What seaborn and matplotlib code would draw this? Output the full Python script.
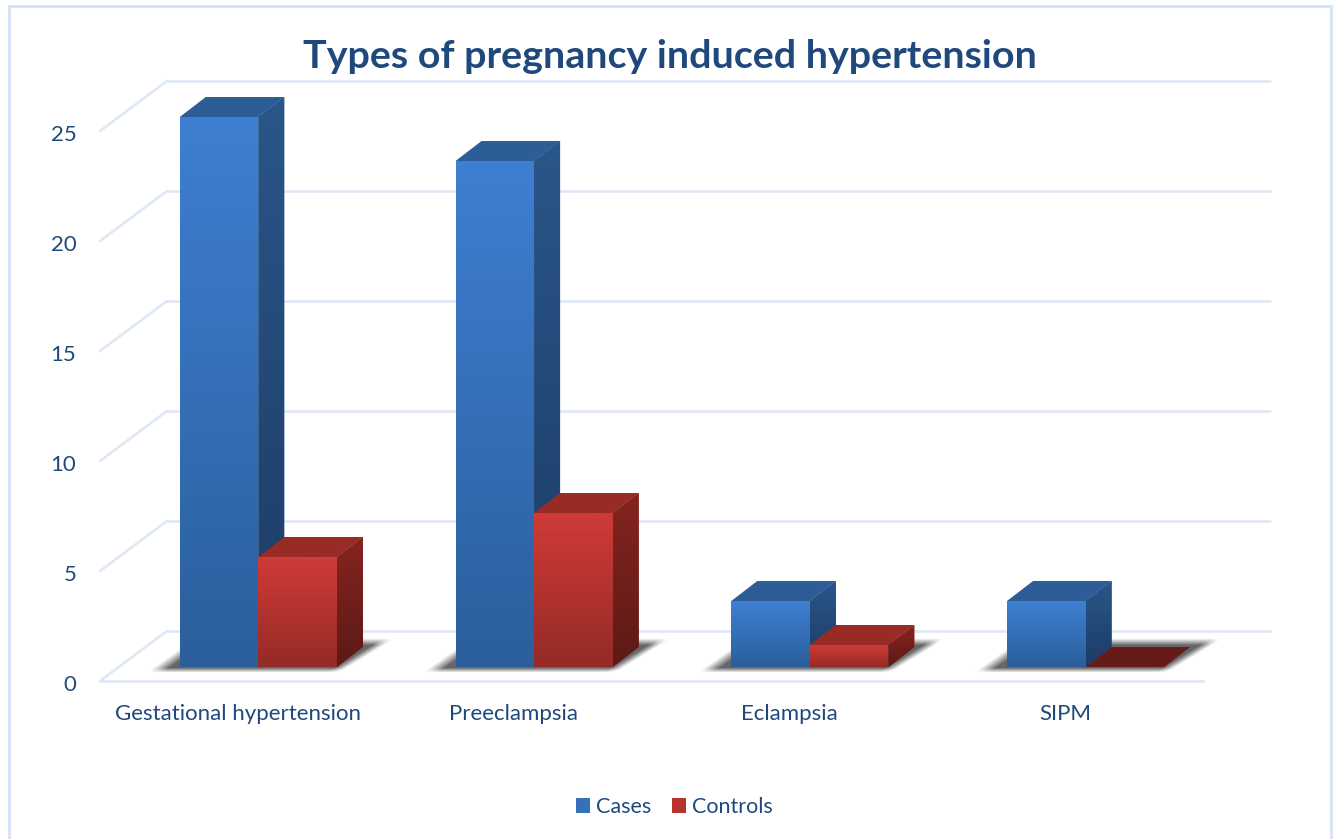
"""Types of pregnancy induced hypertension, drawn as a 3D look bar chart."""

import matplotlib
matplotlib.use('Agg')
import matplotlib.pyplot as plt
import seaborn as sns
import numpy as np
import pandas as pd
from matplotlib.colors import to_rgb
from matplotlib.patches import Polygon, Rectangle
from matplotlib.transforms import Affine2D, IdentityTransform

categories = ['Gestational hypertension', 'Preeclampsia', 'Eclampsia', 'SIPM']
cases = [25, 23, 3, 3]
controls = [5, 7, 1, 0]
y_ticks = [0, 5, 10, 15, 20, 25]

TEXT = '#1f497d'
WALL = '#dde7f5'
W, H = 1335, 839
BAR_SHIFT = (20.5, 14)     # front of the bars sits a bit into the floor
BAR_DEPTH = (26, 20)
WALL_SHIFT = (67, 50)

# front top, front bottom, side top, side bottom, top face, top face of an empty bar
STYLES = {
    'Cases': ('#3e7fd2', '#2b5f9c', '#2a5689', '#1c3c66', '#2c5d97', '#2c5d97'),
    'Controls': ('#cf3b37', '#952a26', '#85241f', '#5d1a16', '#982b26', '#661b18'),
}

sns.set_style('white')
plt.rcParams['font.family'] = ['Lato', 'DejaVu Sans']

df = pd.DataFrame({
    'Type': categories * 2,
    'Series': ['Cases'] * 4 + ['Controls'] * 4,
    'Value': cases + controls,
})

fig = plt.figure(figsize=(W / 100, H / 100), dpi=100)
ax = fig.add_axes([100 / W, (H - 681) / H, 1103 / W, 550 / H])
ax.patch.set_alpha(0)

sns.barplot(data=df, x='Type', y='Value', hue='Series', width=0.57, ax=ax,
            palette={'Cases': '#3670b8', 'Controls': '#b8332e'}, saturation=1,
            errorbar=None, linewidth=0)
ax.set_xlim(-0.5, 3.5)
ax.set_ylim(0, 25)
ax.set_xlabel('')
ax.set_ylabel('')
ax.set_yticks(y_ticks)
ax.tick_params(axis='x', length=0, pad=16.5, labelsize=16, labelcolor=TEXT)
ax.tick_params(axis='y', length=0, pad=17, labelsize=16, labelcolor=TEXT)
for label in ax.get_yticklabels():
    label.set_transform(label.get_transform() + Affine2D().translate(0, -2))

sns.despine(ax=ax, left=True)
ax.spines['bottom'].set_color(WALL)
ax.spines['bottom'].set_linewidth(1.8)

# back wall and left wall lines
wall = ax.transData + Affine2D().translate(*WALL_SHIFT)
for tick in y_ticks:
    ax.plot([-0.5, 3.5], [tick, tick], color=WALL, lw=1.8, transform=wall,
            clip_on=False, zorder=1)
    x0, y0 = ax.transData.transform((-0.5, tick))
    ax.plot([x0, x0 + WALL_SHIFT[0]], [y0, y0 + WALL_SHIFT[1]], color=WALL, lw=1.8,
            transform=IdentityTransform(), clip_on=False, zorder=1)


def gradient_face(verts, top, bottom, z):
    """Fill a polygon given in pixels with a vertical gradient."""
    verts = np.array(verts)
    poly = Polygon(verts, closed=True, transform=IdentityTransform(), facecolor=top,
                   edgecolor='none', clip_on=False, zorder=z)
    ax.add_patch(poly)
    colors = np.linspace(to_rgb(top), to_rgb(bottom), 64).reshape(64, 1, 3)
    extent = (verts[:, 0].min(), verts[:, 0].max(), verts[:, 1].min(), verts[:, 1].max())
    im = ax.imshow(colors, extent=extent, aspect='auto', origin='upper',
                   interpolation='bilinear', transform=IdentityTransform(), zorder=z + 0.1)
    im.set_clip_box(fig.bbox)
    im.set_clip_path(poly)


def floor_shadow(left, right, y, z):
    """Soft shadow on the floor around one group of bars, as a small RGBA image."""
    xs, ys = np.meshgrid(np.arange(left - 50, right + 85), np.arange(y - 10, y + 36))
    rise = (ys - (y - 6)) / 36
    left_edge = left - 34 + 50 * rise
    right_edge = right + 2 + 58 * rise
    soft = lambda d, blur: np.clip(d / blur, 0, 1)
    alpha = (soft(ys - (y - 6), 5) * soft(y + 29 - ys, 7)
             * soft(xs - left_edge, 16) * soft(right_edge - xs, 12))
    rgba = np.zeros(alpha.shape + (4,))
    rgba[..., 3] = 0.6 * alpha
    im = ax.imshow(rgba, extent=(xs.min(), xs.max(), ys.min(), ys.max()), aspect='auto',
                   origin='lower', interpolation='bilinear',
                   transform=IdentityTransform(), zorder=z)
    im.set_clip_box(fig.bbox)


ax.figure.canvas.draw()
shift = Affine2D().translate(*BAR_SHIFT)
bar_transform = ax.transData + shift
dx, dy = BAR_DEPTH

blue_bars, red_bars = ax.containers
for i, group in enumerate(zip(blue_bars, red_bars)):
    z = 3 + i * 10
    corners = bar_transform.transform([(group[0].get_x(), 0),
                                       (group[1].get_x() + group[1].get_width(), 0)])
    floor_shadow(corners[0][0], corners[1][0], corners[0][1], z)
    for j, (bar, series) in enumerate(zip(group, ['Cases', 'Controls'])):
        base = z + 1 + j * 3
        front_top, front_bottom, side_top, side_bottom, top_face, empty_top = STYLES[series]
        (x0, y0), (x1, y1) = bar_transform.transform(
            [(bar.get_x(), 0), (bar.get_x() + bar.get_width(), bar.get_height())])
        has_height = bar.get_height() > 0
        if has_height:
            gradient_face([(x1, y0), (x1 + dx, y0 + dy), (x1 + dx, y1 + dy), (x1, y1)],
                          side_top, side_bottom, base)
        ax.add_patch(Polygon([(x0, y1), (x1, y1), (x1 + dx, y1 + dy), (x0 + dx, y1 + dy)],
                             closed=True, transform=IdentityTransform(),
                             facecolor=top_face if has_height else empty_top,
                             edgecolor='none', clip_on=False, zorder=base + 0.5))
        bar.set_transform(bar_transform)
        bar.set_clip_on(False)
        bar.set_zorder(base + 1)
        if has_height:
            gradient_face([(x0, y0), (x1, y0), (x1, y1), (x0, y1)],
                          front_top, front_bottom, base + 1.2)

ax.set_xlim(-0.5, 3.5)
ax.set_ylim(0, 25)

handles, labels = ax.get_legend_handles_labels()
ax.legend(handles, labels, loc='center', bbox_to_anchor=(674.5 / W, (H - 807) / H),
          bbox_transform=fig.transFigure, ncol=2, frameon=False, fontsize=15.5,
          labelcolor=TEXT, handlelength=0.65, handleheight=0.65, handletextpad=0.3,
          columnspacing=0.95, borderpad=0)

fig.text(669.5 / W, (H - 56) / H, 'Types of pregnancy induced hypertension', ha='center',
         va='center', fontsize=28.4, fontweight='bold', color=TEXT)

# chart border, the bottom edge runs off the picture
fig.add_artist(Rectangle((9 / W, -0.02), 1322 / W, (H - 6) / H + 0.02,
                         transform=fig.transFigure, fill=False, edgecolor='#d3e2f5', lw=2))

fig.savefig('out.png', dpi=100)
plt.close()
